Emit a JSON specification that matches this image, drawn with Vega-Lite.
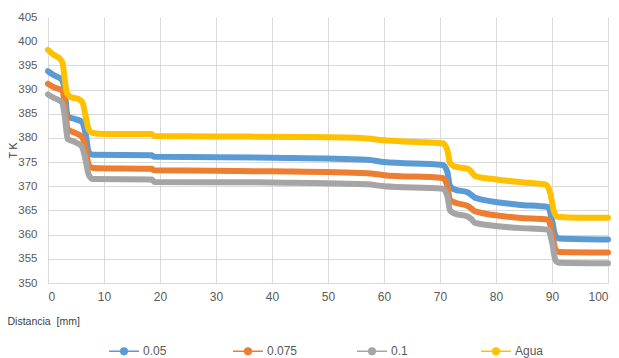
{
  "$schema": "https://vega.github.io/schema/vega-lite/v6.json",
  "width": 560,
  "height": 266,
  "autosize": {"type": "none"},
  "padding": {"left": 48, "top": 17, "right": 11, "bottom": 75},
  "background": "white",
  "config": {
    "view": {"stroke": null},
    "font": "Liberation Sans"
  },
  "data": {
    "values": [
      {"serie": "0.05", "x": 0, "t": 393.8}, {"serie": "0.05", "x": 1, "t": 393.0}, {"serie": "0.05", "x": 2.5, "t": 392.0},
      {"serie": "0.05", "x": 3, "t": 389.5}, {"serie": "0.05", "x": 3.5, "t": 384.5}, {"serie": "0.05", "x": 4.5, "t": 384.0},
      {"serie": "0.05", "x": 6, "t": 383.4}, {"serie": "0.05", "x": 6.7, "t": 381.0}, {"serie": "0.05", "x": 7.3, "t": 377.0},
      {"serie": "0.05", "x": 8, "t": 376.5}, {"serie": "0.05", "x": 18.5, "t": 376.4}, {"serie": "0.05", "x": 19, "t": 376.1},
      {"serie": "0.05", "x": 40, "t": 375.9}, {"serie": "0.05", "x": 57, "t": 375.5}, {"serie": "0.05", "x": 60, "t": 375.0},
      {"serie": "0.05", "x": 70.5, "t": 374.4}, {"serie": "0.05", "x": 71.3, "t": 373.0}, {"serie": "0.05", "x": 71.8, "t": 370.0},
      {"serie": "0.05", "x": 72.5, "t": 369.4}, {"serie": "0.05", "x": 75, "t": 368.7}, {"serie": "0.05", "x": 75.6, "t": 368.2},
      {"serie": "0.05", "x": 76.3, "t": 367.6}, {"serie": "0.05", "x": 84, "t": 366.2}, {"serie": "0.05", "x": 89.3, "t": 365.7},
      {"serie": "0.05", "x": 90, "t": 363.0}, {"serie": "0.05", "x": 90.6, "t": 359.8}, {"serie": "0.05", "x": 91.2, "t": 359.2},
      {"serie": "0.05", "x": 100, "t": 359.0},

      {"serie": "0.075", "x": 0, "t": 391.2}, {"serie": "0.075", "x": 1, "t": 390.5}, {"serie": "0.075", "x": 2.5, "t": 389.8},
      {"serie": "0.075", "x": 3, "t": 387.0}, {"serie": "0.075", "x": 3.5, "t": 381.8}, {"serie": "0.075", "x": 4.5, "t": 381.2},
      {"serie": "0.075", "x": 6, "t": 380.3}, {"serie": "0.075", "x": 6.7, "t": 378.0}, {"serie": "0.075", "x": 7.3, "t": 374.3},
      {"serie": "0.075", "x": 8, "t": 373.8}, {"serie": "0.075", "x": 18.5, "t": 373.6}, {"serie": "0.075", "x": 19, "t": 373.3},
      {"serie": "0.075", "x": 40, "t": 373.1}, {"serie": "0.075", "x": 57, "t": 372.7}, {"serie": "0.075", "x": 60, "t": 372.3},
      {"serie": "0.075", "x": 70.5, "t": 371.7}, {"serie": "0.075", "x": 71.3, "t": 370.0}, {"serie": "0.075", "x": 71.8, "t": 367.2},
      {"serie": "0.075", "x": 72.5, "t": 366.7}, {"serie": "0.075", "x": 75, "t": 365.9}, {"serie": "0.075", "x": 75.6, "t": 365.4},
      {"serie": "0.075", "x": 76.3, "t": 364.8}, {"serie": "0.075", "x": 84, "t": 363.5}, {"serie": "0.075", "x": 89.3, "t": 363.1},
      {"serie": "0.075", "x": 90, "t": 360.5}, {"serie": "0.075", "x": 90.6, "t": 357.0}, {"serie": "0.075", "x": 91.2, "t": 356.4},
      {"serie": "0.075", "x": 100, "t": 356.3},

      {"serie": "0.1", "x": 0, "t": 389.0}, {"serie": "0.1", "x": 1, "t": 388.3}, {"serie": "0.1", "x": 2.5, "t": 387.3},
      {"serie": "0.1", "x": 3, "t": 384.5}, {"serie": "0.1", "x": 3.5, "t": 379.8}, {"serie": "0.1", "x": 4.5, "t": 379.3},
      {"serie": "0.1", "x": 6, "t": 378.3}, {"serie": "0.1", "x": 6.7, "t": 375.5}, {"serie": "0.1", "x": 7.3, "t": 372.3},
      {"serie": "0.1", "x": 8, "t": 371.5}, {"serie": "0.1", "x": 18.5, "t": 371.4}, {"serie": "0.1", "x": 19, "t": 370.9},
      {"serie": "0.1", "x": 40, "t": 370.8}, {"serie": "0.1", "x": 57, "t": 370.4}, {"serie": "0.1", "x": 60, "t": 370.0},
      {"serie": "0.1", "x": 70.5, "t": 369.5}, {"serie": "0.1", "x": 71.3, "t": 368.0}, {"serie": "0.1", "x": 71.8, "t": 365.0},
      {"serie": "0.1", "x": 72.5, "t": 364.4}, {"serie": "0.1", "x": 75, "t": 363.7}, {"serie": "0.1", "x": 75.6, "t": 363.2},
      {"serie": "0.1", "x": 76.3, "t": 362.4}, {"serie": "0.1", "x": 84, "t": 361.4}, {"serie": "0.1", "x": 89.3, "t": 361.0},
      {"serie": "0.1", "x": 90, "t": 358.5}, {"serie": "0.1", "x": 90.6, "t": 354.8}, {"serie": "0.1", "x": 91.2, "t": 354.2},
      {"serie": "0.1", "x": 100, "t": 354.1},

      {"serie": "Agua", "x": 0, "t": 398.2}, {"serie": "Agua", "x": 1, "t": 397.2}, {"serie": "Agua", "x": 2, "t": 396.5},
      {"serie": "Agua", "x": 2.6, "t": 395.5}, {"serie": "Agua", "x": 3.0, "t": 392.0}, {"serie": "Agua", "x": 3.4, "t": 389.2},
      {"serie": "Agua", "x": 4, "t": 388.5}, {"serie": "Agua", "x": 5.5, "t": 388.0}, {"serie": "Agua", "x": 6.2, "t": 387.2},
      {"serie": "Agua", "x": 6.8, "t": 384.0}, {"serie": "Agua", "x": 7.3, "t": 381.6}, {"serie": "Agua", "x": 8, "t": 381.0},
      {"serie": "Agua", "x": 10, "t": 380.8}, {"serie": "Agua", "x": 18.5, "t": 380.8}, {"serie": "Agua", "x": 19, "t": 380.4},
      {"serie": "Agua", "x": 30, "t": 380.3}, {"serie": "Agua", "x": 45, "t": 380.2}, {"serie": "Agua", "x": 56, "t": 380.0},
      {"serie": "Agua", "x": 60, "t": 379.5}, {"serie": "Agua", "x": 65, "t": 379.2}, {"serie": "Agua", "x": 70.5, "t": 378.9},
      {"serie": "Agua", "x": 71.3, "t": 377.5}, {"serie": "Agua", "x": 71.8, "t": 374.8}, {"serie": "Agua", "x": 72.5, "t": 374.1},
      {"serie": "Agua", "x": 75, "t": 373.6}, {"serie": "Agua", "x": 75.6, "t": 373.0}, {"serie": "Agua", "x": 76.3, "t": 372.1},
      {"serie": "Agua", "x": 80, "t": 371.4}, {"serie": "Agua", "x": 85, "t": 370.8}, {"serie": "Agua", "x": 89, "t": 370.3},
      {"serie": "Agua", "x": 89.7, "t": 368.5}, {"serie": "Agua", "x": 90.3, "t": 365.0}, {"serie": "Agua", "x": 90.9, "t": 363.7},
      {"serie": "Agua", "x": 95, "t": 363.5}, {"serie": "Agua", "x": 100, "t": 363.5}
    ]
  },
  "mark": {
    "type": "line",
    "strokeWidth": 6,
    "strokeCap": "round",
    "strokeJoin": "round",
    "interpolate": "monotone"
  },
  "encoding": {
    "x": {
      "field": "x",
      "type": "quantitative",
      "scale": {"domain": [0, 100], "nice": false},
      "axis": {
        "values": [0, 10, 20, 30, 40, 50, 60, 70, 80, 90, 100],
        "domain": false,
        "ticks": false,
        "grid": true,
        "gridColor": "#d9d9d9",
        "gridWidth": 1,
        "labelPadding": 8,
        "labelFontSize": 12,
        "labelColor": "#595959",
        "labelFont": "Liberation Sans",
        "title": "Distancia\u00a0 [mm]",
        "titleFont": "Liberation Sans",
        "titleFontSize": 10.5,
        "titleFontWeight": "normal",
        "titleColor": "#404040",
        "titleAlign": "left",
        "titleBaseline": "middle",
        "titleX": -41,
        "titleY": 38
      }
    },
    "y": {
      "field": "t",
      "type": "quantitative",
      "scale": {"domain": [350, 405], "nice": false, "zero": false},
      "axis": {
        "values": [350, 355, 360, 365, 370, 375, 380, 385, 390, 395, 400, 405],
        "domain": false,
        "ticks": false,
        "grid": true,
        "gridColor": "#d9d9d9",
        "gridWidth": 1,
        "gridOpacity": {"condition": {"test": "datum.value == 405", "value": 0}, "value": 1},
        "labelPadding": 11,
        "labelFontSize": 11.5,
        "labelColor": "#595959",
        "labelFont": "Liberation Sans",
        "title": "T K",
        "titleFont": "Liberation Sans",
        "titleFontSize": 10.5,
        "titleFontWeight": "normal",
        "titleColor": "#404040",
        "titleAngle": -90,
        "titleAlign": "center",
        "titleBaseline": "middle",
        "titleX": -35,
        "titleY": 133
      }
    },
    "color": {
      "field": "serie",
      "type": "nominal",
      "scale": {
        "domain": ["0.05", "0.075", "0.1", "Agua"],
        "range": ["#5B9BD5", "#ED7D31", "#A5A5A5", "#FFC000"]
      },
      "legend": {
        "title": null,
        "orient": "none",
        "direction": "horizontal",
        "columns": 4,
        "gridAlign": "all",
        "legendX": 60,
        "legendY": 318,
        "symbolType": "M-1,0 L1,0 M-0.22,0 A0.22,0.22 0 1,1 0.22,0 A0.22,0.22 0 1,1 -0.22,0 Z",
        "symbolSize": 900,
        "symbolStrokeWidth": 1.5,
        "symbolOffset": 0,
        "labelOffset": 3,
        "labelFontSize": 12,
        "labelColor": "#595959",
        "labelFont": "Liberation Sans",
        "columnPadding": 56,
        "encode": {
          "symbols": {"update": {"fill": {"scale": "color", "field": "value"}}}
        }
      }
    }
  }
}
